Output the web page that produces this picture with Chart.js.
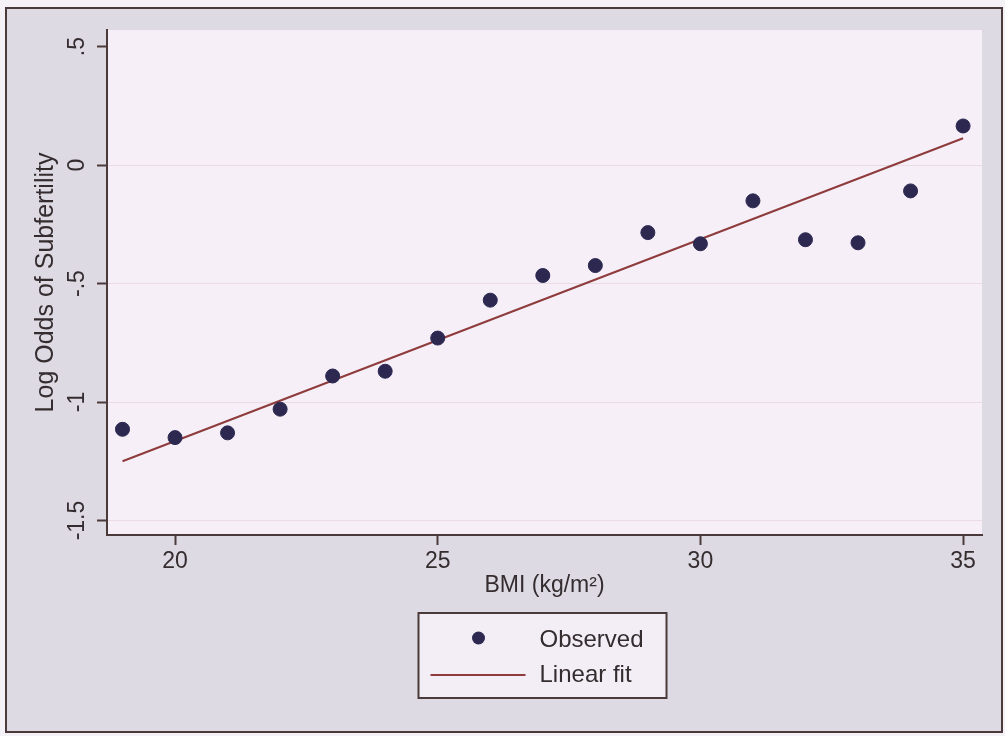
<!DOCTYPE html>
<html>
<head>
<meta charset="utf-8">
<script src="https://cdn.jsdelivr.net/npm/chart.js@4.4.1/dist/chart.umd.min.js"></script>
<style>
  html, body { margin: 0; padding: 0; background: #f4f2f6; }
  #wrap { width: 1005px; height: 736px; position: relative; }
</style>
</head>
<body>
<div id="wrap"><canvas id="bmiChart"></canvas></div>
<script>
// observed log odds by BMI
const bmiValues = [19, 20, 21, 22, 23, 24, 25, 26, 27, 28, 29, 30, 31, 32, 33, 34, 35];
const observedLogOdds = [-1.115, -1.15, -1.13, -1.03, -0.89, -0.87, -0.73, -0.57, -0.466, -0.424, -0.285, -0.332, -0.151, -0.315, -0.328, -0.109, 0.165];

// linear fit end points
const fitBmi = [19, 35];
const fitLogOdds = [-1.25, 0.113];

const xTicks = [20, 25, 30, 35];
const yTicks = [-1.5, -1, -0.5, 0, 0.5];
const yTickLabels = ['-1.5', '-1', '-.5', '0', '.5'];

const fontFamily = '"Liberation Sans", Arial, sans-serif';
const inkColor = '#342c2e';
const axisColor = '#4a3a3a';

// grey frame, plot region and the boxed legend
const stataFrame = {
    id: 'stataFrame',
    beforeDraw(chart) {
        const ctx = chart.ctx;
        const a = chart.chartArea;
        ctx.save();
        ctx.fillStyle = '#f4f2f6';
        ctx.fillRect(0, 0, chart.width, chart.height);
        ctx.fillStyle = '#dddae3';
        ctx.fillRect(6, 8, chart.width - 9, chart.height - 12);
        ctx.strokeStyle = axisColor;
        ctx.lineWidth = 2;
        ctx.strokeRect(6, 8, chart.width - 9, chart.height - 12);
        ctx.fillStyle = '#f6eff8';
        ctx.fillRect(a.left, a.top, a.right - a.left, a.bottom - a.top);
        ctx.restore();
    },
    afterDraw(chart) {
        const ctx = chart.ctx;
        const a = chart.chartArea;
        const boxW = 248, boxH = 85;
        const cx = (a.left + a.right) / 2 - 2;
        const left = cx - boxW / 2;
        const top = a.bottom + 78;
        ctx.save();
        ctx.fillStyle = '#f3eef6';
        ctx.fillRect(left, top, boxW, boxH);
        ctx.strokeStyle = axisColor;
        ctx.lineWidth = 2;
        ctx.strokeRect(left, top, boxW, boxH);

        const pts = chart.data.datasets[0];
        const fit = chart.data.datasets[1];
        // marker
        ctx.fillStyle = pts.backgroundColor;
        ctx.beginPath();
        ctx.arc(left + 60, top + 25, 6.5, 0, Math.PI * 2);
        ctx.fill();
        // line sample
        ctx.strokeStyle = fit.borderColor;
        ctx.lineWidth = 2;
        ctx.beginPath();
        ctx.moveTo(left + 12, top + 62);
        ctx.lineTo(left + 107, top + 62);
        ctx.stroke();

        ctx.fillStyle = inkColor;
        ctx.font = '24px ' + fontFamily;
        ctx.textBaseline = 'middle';
        ctx.textAlign = 'left';
        ctx.fillText(pts.label, left + 121, top + 27);
        ctx.fillText(fit.label, left + 121, top + 62);
        ctx.restore();
    }
};

const ctx = document.getElementById('bmiChart').getContext('2d');
new Chart(ctx, {
    type: 'scatter',
    data: {
        datasets: [
            {
                label: 'Observed',
                data: bmiValues.map((b, i) => ({ x: b, y: observedLogOdds[i] })),
                backgroundColor: '#2c2850',
                borderColor: '#2c2850',
                pointRadius: 7,
                pointHoverRadius: 7,
                order: 1
            },
            {
                label: 'Linear fit',
                type: 'line',
                data: fitBmi.map((b, i) => ({ x: b, y: fitLogOdds[i] })),
                borderColor: '#8e3b3b',
                borderWidth: 2,
                pointRadius: 0,
                fill: false,
                order: 2
            }
        ]
    },
    options: {
        responsive: true,
        maintainAspectRatio: false,
        animation: false,
        layout: {
            padding: { left: 0, top: 30, right: 23, bottom: 121 }
        },
        plugins: {
            legend: { display: false },
            tooltip: { enabled: false }
        },
        scales: {
            x: {
                type: 'linear',
                min: 18.705,
                max: 35.36,
                afterBuildTicks: s => { s.ticks = xTicks.map(v => ({ value: v })); },
                afterFit: s => { s.height = 80; },
                border: { color: axisColor, width: 2 },
                grid: {
                    drawOnChartArea: false,
                    tickLength: 10,
                    tickColor: axisColor,
                    tickWidth: 2
                },
                ticks: {
                    padding: 3,
                    maxRotation: 0,
                    color: inkColor,
                    font: { family: fontFamily, size: 23 }
                },
                title: {
                    display: true,
                    text: 'BMI (kg/m²)',
                    color: inkColor,
                    font: { family: fontFamily, size: 23 },
                    padding: { top: 0, bottom: 16 }
                }
            },
            y: {
                type: 'linear',
                min: -1.561,
                max: 0.570,
                afterBuildTicks: s => { s.ticks = yTicks.map(v => ({ value: v })); },
                afterFit: s => { s.width = 107; },
                border: { color: axisColor, width: 2 },
                grid: {
                    color: c => (c.tick && c.tick.value === 0.5) ? 'rgba(0,0,0,0)' : '#eadbe4',
                    lineWidth: 1,
                    tickLength: 10,
                    tickColor: axisColor,
                    tickWidth: 2
                },
                ticks: {
                    minRotation: 90,
                    maxRotation: 90,
                    crossAlign: 'center',
                    padding: 0,
                    color: inkColor,
                    font: { family: fontFamily, size: 23 },
                    callback: v => {
                        const i = yTicks.indexOf(v);
                        return i >= 0 ? yTickLabels[i] : '';
                    }
                },
                title: {
                    display: true,
                    text: 'Log Odds of Subfertility',
                    color: inkColor,
                    font: { family: fontFamily, size: 25 },
                    padding: { top: 31, bottom: 0 }
                }
            }
        }
    },
    plugins: [stataFrame]
});
</script>
</body>
</html>
